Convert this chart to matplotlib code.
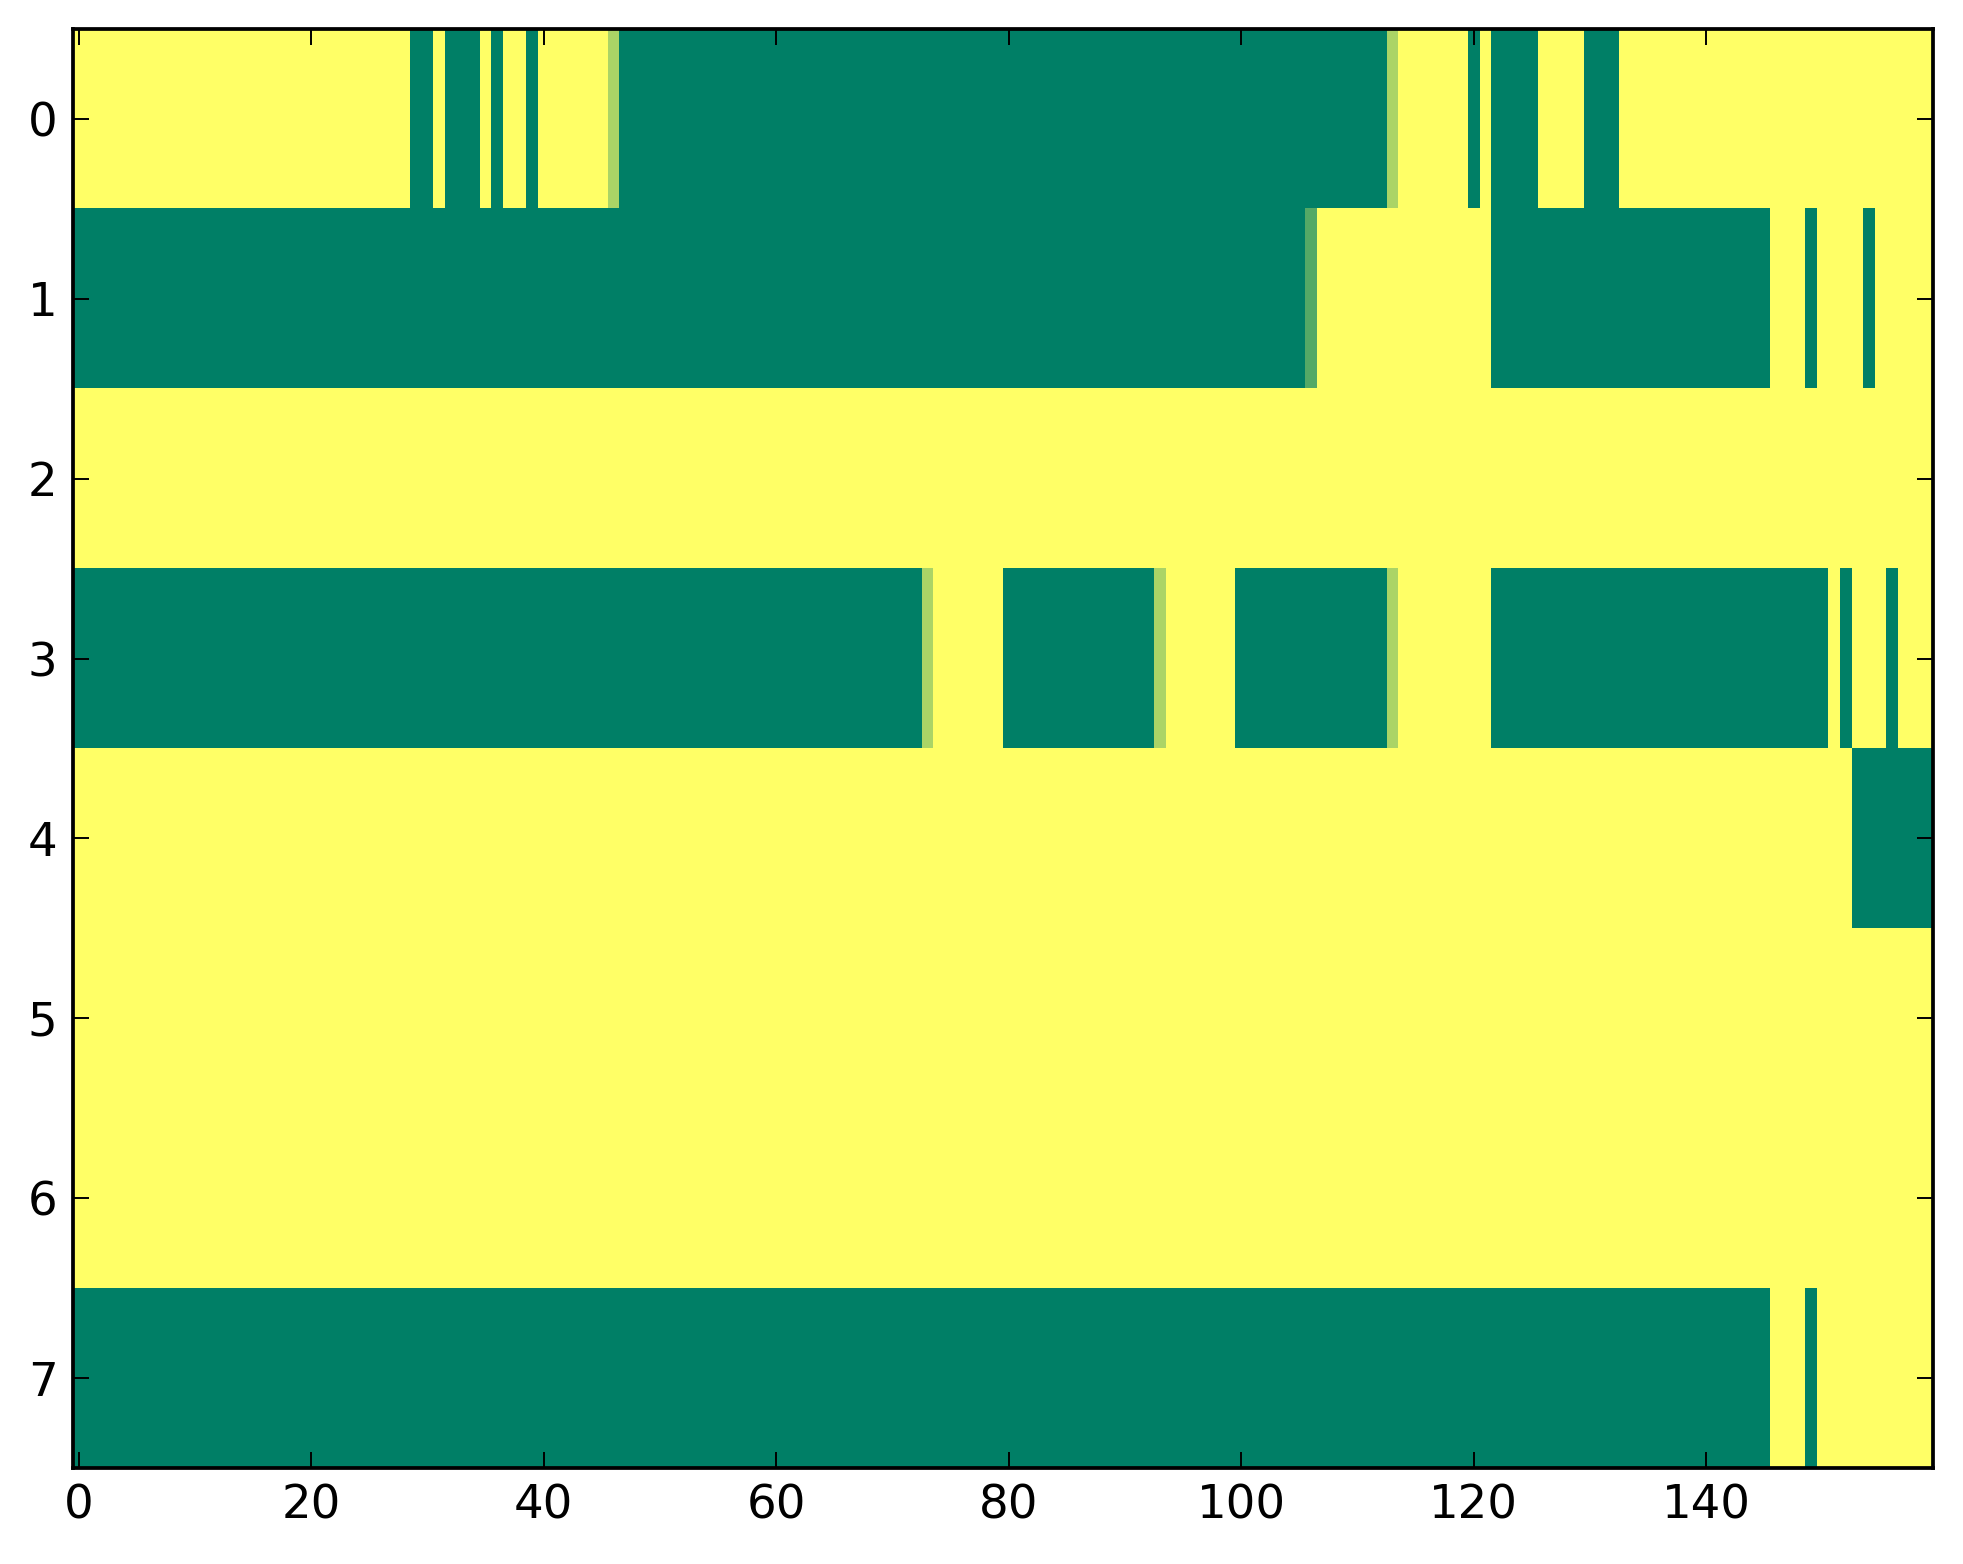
import numpy as np
import matplotlib
matplotlib.use("Agg")
import matplotlib.pyplot as plt

# Cell values per row as (value, run length) pairs; 1 = yellow, 0 = green
row0 = [(1, 29), (0, 2), (1, 1), (0, 3), (1, 1), (0, 1), (1, 2), (0, 1), (1, 6),
        (0.67, 1), (0, 66), (0.67, 1), (1, 6), (0, 1), (1, 1), (0, 4), (1, 4),
        (0, 3), (1, 27)]
row1 = [(0, 106), (0.33, 1), (1, 15), (0, 24), (1, 3), (0, 1), (1, 4), (0, 1), (1, 5)]
row2 = [(1, 160)]
row3 = [(0, 73), (0.67, 1), (1, 6), (0, 13), (0.67, 1), (1, 6), (0, 13), (0.67, 1),
        (1, 8), (0, 29), (1, 1), (0, 1), (1, 3), (0, 1), (1, 3)]
row4 = [(1, 153), (0, 7)]
row5 = [(1, 160)]
row6 = [(1, 160)]
row7 = [(0, 146), (1, 3), (0, 1), (1, 10)]

rows = [row0, row1, row2, row3, row4, row5, row6, row7]
xticks = [0, 20, 40, 60, 80, 100, 120, 140]
yticks = [0, 1, 2, 3, 4, 5, 6, 7]


def expand(runs):
    vals = [v for v, n in runs]
    counts = [n for v, n in runs]
    return np.repeat(vals, counts)


data = np.array([expand(r) for r in rows])

S = 2.8
plt.rcParams['font.family'] = ['DejaVu Sans']
fig = plt.figure(figsize=(19.63, 15.64), dpi=100)
ax = fig.add_axes([0.0372, 0.0614, 0.9847 - 0.0372, 0.9815 - 0.0614])
ax.imshow(data, cmap='summer', vmin=0, vmax=1, aspect='auto',
          interpolation='nearest')
ax.set_xticks(xticks)
ax.set_yticks(yticks)
ax.tick_params(direction='in', length=4 * S, width=0.5 * S, labelsize=12 * S,
               pad=4 * S, top=True, right=True)
for sp in ax.spines.values():
    sp.set_linewidth(2.7)
fig.savefig("out.png", dpi=100)
